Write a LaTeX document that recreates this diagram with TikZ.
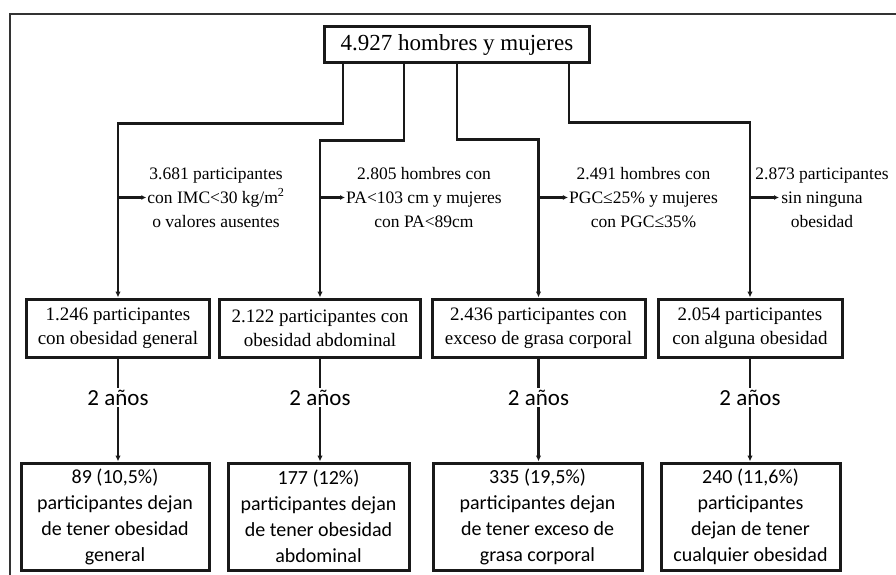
\documentclass[tikz,border=0pt]{standalone}
\usepackage{fontspec}
\setmainfont{Liberation Serif}
\newfontfamily\calib{Carlito}
\usetikzlibrary{arrows.meta}
\begin{document}
\begin{tikzpicture}[x=1pt,y=-1pt,
  box/.style={draw=black!90,line width=3pt,align=center,inner sep=0pt},
  arr/.style={line width=2.4pt,draw=black!90,-{Latex[length=6pt,width=5.5pt]}},
  sidearr/.style={line width=2.4pt,draw=black!90,-{Latex[length=5pt,width=5pt]}},
  lab/.style={font=\fontsize{17.5}{24}\selectfont,align=center,inner sep=1pt},
  mid/.style={box,font=\fontsize{19}{24}\selectfont,minimum height=58pt},
  bot/.style={box,font=\calib\fontsize{20}{26}\selectfont,minimum height=107pt},
  yrs/.style={font=\calib\fontsize{23}{26}\selectfont,fill=white,inner sep=2pt}
]
\useasboundingbox (0,0) rectangle (896,575);
\draw[line width=2.8pt,black!80] (10,600) -- (10,14) -- (920,14);

\node[box,font=\fontsize{23}{26}\selectfont,minimum width=265pt,minimum height=36pt] (top) at (457,45) {4.927 hombres y mujeres};

\node[mid,minimum width=183pt] (m1) at (118,328) {1.246 participantes\\con obesidad general};
\node[mid,minimum width=201pt] (m2) at (320,328) {2.122 participantes con\\obesidad abdominal};
\node[mid,minimum width=213pt] (m3) at (538.5,328) {2.436 participantes con\\exceso de grasa corporal};
\node[mid,minimum width=184pt] (m4) at (750,328) {2.054 participantes\\con alguna obesidad};

\node[bot,minimum width=188pt] (b1) at (115,516.5) {89 (10,5\%)\\participantes dejan\\de tener obesidad\\general};
\node[bot,minimum width=181pt] (b2) at (318.5,516.5) {177 (12\%)\\participantes dejan\\de tener obesidad\\abdominal};
\node[bot,minimum width=209pt] (b3) at (537.5,516.5) {335 (19,5\%)\\participantes dejan\\de tener exceso de\\grasa corporal};
\node[bot,minimum width=179pt] (b4) at (750.5,516.5) {240 (11,6\%)\\participantes\\dejan de tener\\cualquier obesidad};

\node[lab] (l1) at (216,197.5) {3.681 participantes\\con IMC<30 kg/m\textsuperscript{2}\\o valores ausentes};
\node[lab] (l2) at (424,197.5) {2.805 hombres con\\PA<103 cm y mujeres\\con PA<89cm};
\node[lab] (l3) at (643.5,197.5) {2.491 hombres con\\PGC≤25\% y mujeres\\con PGC≤35\%};
\node[lab] (l4) at (822,197.5) {2.873 participantes\\sin ninguna\\obesidad};

\draw[arr] ([xshift=-114pt]top.south) -- ++(0,59) -| (m1.north);
\draw[arr] ([xshift=-53pt]top.south) -- ++(0,76) -| (m2.north);
\draw[arr] (top.south) -- ++(0,75) -| (m3.north);
\draw[arr] ([xshift=112pt]top.south) -- ++(0,58) -| (m4.north);

\draw[sidearr] (m1.north |- l1.west) -- (l1.west);
\draw[sidearr] (m2.north |- l2.west) -- (l2.west);
\draw[sidearr] (m3.north |- l3.west) -- (l3.west);
\draw[sidearr] (m4.north |- l4.west) -- ++(29,0);

\draw[arr] (m1.south) -- node[yrs,pos=0.38] (y1) {2 años} (m1.south |- b1.north);
\draw[arr] (m2.south) -- node[yrs,pos=0.38] (y2) {2 años} (m2.south |- b2.north);
\draw[arr] (m3.south) -- node[yrs,pos=0.38] (y3) {2 años} (m3.south |- b3.north);
\draw[arr] (m4.south) -- node[yrs,pos=0.38] (y4) {2 años} (m4.south |- b4.north);
\end{tikzpicture}
\end{document}
